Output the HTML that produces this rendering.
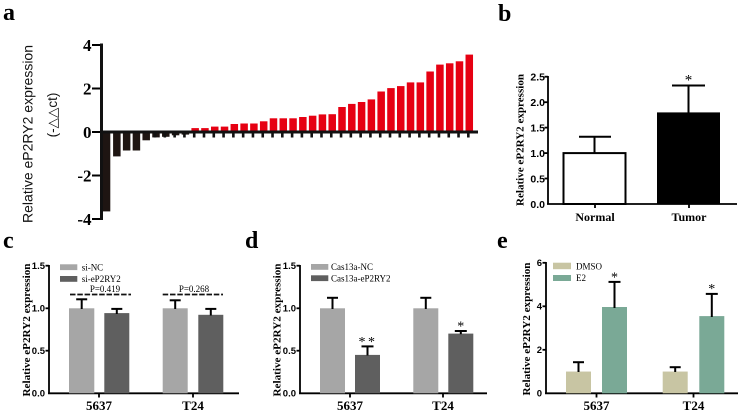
<!DOCTYPE html>
<html><head><meta charset="utf-8"><style>
html,body{margin:0;padding:0;background:#fff;}
svg{display:block;}
.sf{font-family:"Liberation Serif",serif;}
.ss{font-family:"Liberation Sans",sans-serif;}
</style></head><body>
<svg width="746" height="414" viewBox="0 0 746 414" xmlns="http://www.w3.org/2000/svg">
<rect width="746" height="414" fill="#fff"/>
<!-- ===== Panel a ===== -->
<text x="3" y="20" class="sf" font-size="24" font-weight="bold">a</text>
<text class="ss" font-size="13.5" fill="#111" transform="translate(32.5,134) rotate(-90)" text-anchor="middle" textLength="178" lengthAdjust="spacingAndGlyphs">Relative eP2RY2 expression</text>
<text font-family="Liberation Sans, DejaVu Sans, sans-serif" font-size="13.5" fill="#111" transform="translate(57,115) rotate(-90)" text-anchor="middle">(-△△ct)</text>
<g class="sf" font-size="17" font-weight="bold" text-anchor="end">
<text x="91.5" y="51">4</text>
<text x="91.5" y="94.5">2</text>
<text x="91.5" y="138">0</text>
<text x="91.5" y="181.5">-2</text>
<text x="91.5" y="225">-4</text>
</g>
<g stroke="#000" stroke-width="2">
<line x1="92" y1="45" x2="102" y2="45"/>
<line x1="92" y1="88.5" x2="102" y2="88.5"/>
<line x1="92" y1="132" x2="102" y2="132"/>
<line x1="92" y1="175.5" x2="102" y2="175.5"/>
<line x1="92" y1="219" x2="102" y2="219"/>
</g>
<g fill="#1e1512">
<rect x="102.3" y="132" width="8" height="79.4"/>
<rect x="113.09" y="132" width="7.5" height="24.4"/>
<rect x="122.88" y="132" width="7.5" height="18.5"/>
<rect x="132.67" y="132" width="7.5" height="18.5"/>
<rect x="142.46" y="132" width="7.5" height="8.3"/>
<rect x="152.25" y="132" width="7.5" height="5.4"/>
<rect x="162.04" y="132" width="7.5" height="4.8"/>
<rect x="171.83" y="132" width="7.5" height="3.3"/>
<rect x="181.62" y="132" width="7.5" height="2.6"/>
</g>
<g fill="#e60012">
<rect x="191.41" y="128.1" width="7.5" height="3.9"/>
<rect x="201.2" y="128.1" width="7.5" height="3.9"/>
<rect x="210.99" y="126.6" width="7.5" height="5.4"/>
<rect x="220.78" y="126.6" width="7.5" height="5.4"/>
<rect x="230.57" y="124.0" width="7.5" height="8"/>
<rect x="240.36" y="123.5" width="7.5" height="8.5"/>
<rect x="250.15" y="123.5" width="7.5" height="8.5"/>
<rect x="259.94" y="121.3" width="7.5" height="10.7"/>
<rect x="269.73" y="118.3" width="7.5" height="13.7"/>
<rect x="279.52" y="118.3" width="7.5" height="13.7"/>
<rect x="289.31" y="118.3" width="7.5" height="13.7"/>
<rect x="299.1" y="117.0" width="7.5" height="15"/>
<rect x="308.89" y="115.7" width="7.5" height="16.3"/>
<rect x="318.68" y="114.4" width="7.5" height="17.6"/>
<rect x="328.47" y="114.2" width="7.5" height="17.8"/>
<rect x="338.26" y="107.0" width="7.5" height="25"/>
<rect x="348.05" y="103.9" width="7.5" height="28.1"/>
<rect x="357.84" y="102.0" width="7.5" height="30"/>
<rect x="367.63" y="99.4" width="7.5" height="32.6"/>
<rect x="377.42" y="91.5" width="7.5" height="40.5"/>
<rect x="387.21" y="88.1" width="7.5" height="43.9"/>
<rect x="397.0" y="86.1" width="7.5" height="45.9"/>
<rect x="406.79" y="82.4" width="7.5" height="49.6"/>
<rect x="416.58" y="82.4" width="7.5" height="49.6"/>
<rect x="426.37" y="71.5" width="7.5" height="60.5"/>
<rect x="436.16" y="64.6" width="7.5" height="67.4"/>
<rect x="445.95" y="63.3" width="7.5" height="68.7"/>
<rect x="455.74" y="61.3" width="7.5" height="70.7"/>
<rect x="465.53" y="54.6" width="7.5" height="77.4"/>
</g>
<g fill="#111">
<rect x="153.75" y="132" width="2.6" height="5.5"/>
<rect x="163.54" y="132" width="2.6" height="5.5"/>
<rect x="173.33" y="132" width="2.6" height="5.5"/>
<rect x="183.12" y="132" width="2.6" height="5.5"/>
<rect x="192.91" y="132" width="2.6" height="5.5"/>
<rect x="202.7" y="132" width="2.6" height="5.5"/>
<rect x="212.49" y="132" width="2.6" height="5.5"/>
<rect x="222.28" y="132" width="2.6" height="5.5"/>
<rect x="232.07" y="132" width="2.6" height="5.5"/>
<rect x="241.86" y="132" width="2.6" height="5.5"/>
<rect x="251.65" y="132" width="2.6" height="5.5"/>
<rect x="261.44" y="132" width="2.6" height="5.5"/>
<rect x="271.23" y="132" width="2.6" height="5.5"/>
<rect x="281.02" y="132" width="2.6" height="5.5"/>
<rect x="290.81" y="132" width="2.6" height="5.5"/>
<rect x="300.6" y="132" width="2.6" height="5.5"/>
<rect x="310.39" y="132" width="2.6" height="5.5"/>
<rect x="320.18" y="132" width="2.6" height="5.5"/>
<rect x="329.97" y="132" width="2.6" height="5.5"/>
<rect x="339.76" y="132" width="2.6" height="5.5"/>
<rect x="349.55" y="132" width="2.6" height="5.5"/>
<rect x="359.34" y="132" width="2.6" height="5.5"/>
<rect x="369.13" y="132" width="2.6" height="5.5"/>
<rect x="378.92" y="132" width="2.6" height="5.5"/>
<rect x="388.71" y="132" width="2.6" height="5.5"/>
<rect x="398.5" y="132" width="2.6" height="5.5"/>
<rect x="408.29" y="132" width="2.6" height="5.5"/>
<rect x="418.08" y="132" width="2.6" height="5.5"/>
<rect x="427.87" y="132" width="2.6" height="5.5"/>
<rect x="437.66" y="132" width="2.6" height="5.5"/>
<rect x="447.45" y="132" width="2.6" height="5.5"/>
<rect x="457.24" y="132" width="2.6" height="5.5"/>
<rect x="467.03" y="132" width="2.6" height="5.5"/>
</g>
<line x1="101.5" y1="43.5" x2="101.5" y2="220" stroke="#111" stroke-width="3"/>
<line x1="100" y1="132" x2="478" y2="132" stroke="#111" stroke-width="3"/>

<!-- ===== Panel b ===== -->
<text x="498" y="21" class="sf" font-size="24" font-weight="bold">b</text>
<text class="sf" font-size="10.7" font-weight="bold" transform="translate(523.5,140) rotate(-90)" text-anchor="middle" textLength="132" lengthAdjust="spacingAndGlyphs">Relative eP2RY2 expression</text>
<g class="ss" font-size="10.5" font-weight="bold" text-anchor="end">
<text x="545" y="80.5">2.5</text>
<text x="545" y="106">2.0</text>
<text x="545" y="131.4">1.5</text>
<text x="545" y="156.9">1.0</text>
<text x="545" y="182.3">0.5</text>
<text x="545" y="207.8">0.0</text>
</g>
<g stroke="#000" stroke-width="1.8">
<line x1="544.5" y1="76.7" x2="548" y2="76.7"/>
<line x1="544.5" y1="102.2" x2="548" y2="102.2"/>
<line x1="544.5" y1="127.6" x2="548" y2="127.6"/>
<line x1="544.5" y1="153.1" x2="548" y2="153.1"/>
<line x1="544.5" y1="178.5" x2="548" y2="178.5"/>
<line x1="548" y1="76" x2="548" y2="204"/>
<line x1="547" y1="204" x2="737" y2="204"/>
<line x1="595" y1="204" x2="595" y2="208"/>
<line x1="689" y1="204" x2="689" y2="208"/>
</g>
<rect x="563.5" y="153.1" width="62" height="50.9" fill="#fff" stroke="#000" stroke-width="2"/>
<g stroke="#000" stroke-width="2">
<line x1="594.5" y1="153.1" x2="594.5" y2="136.7"/>
<line x1="579" y1="136.7" x2="611" y2="136.7"/>
<line x1="688.5" y1="113" x2="688.5" y2="85.5"/>
<line x1="672" y1="85.5" x2="705" y2="85.5"/>
</g>
<rect x="657" y="112.4" width="63" height="91.6" fill="#000"/>
<text x="688.5" y="84.5" class="sf" font-size="15" text-anchor="middle">*</text>
<g class="sf" font-size="12" font-weight="bold" text-anchor="middle">
<text x="595" y="221">Normal</text>
<text x="689" y="221">Tumor</text>
</g>

<!-- ===== Panel c ===== -->
<text x="3" y="248" class="sf" font-size="24" font-weight="bold">c</text>
<text class="sf" font-size="10.7" font-weight="bold" transform="translate(30,330) rotate(-90)" text-anchor="middle" textLength="133" lengthAdjust="spacingAndGlyphs">Relative eP2RY2 expression</text>
<g class="ss" font-size="9.5" font-weight="bold" text-anchor="end">
<text x="45" y="269">1.5</text>
<text x="45" y="311.6">1.0</text>
<text x="45" y="354">0.5</text>
<text x="45" y="396.6">0.0</text>
</g>
<g stroke="#000" stroke-width="1.8">
<line x1="45.5" y1="265.7" x2="49" y2="265.7"/>
<line x1="45.5" y1="308.3" x2="49" y2="308.3"/>
<line x1="45.5" y1="350.7" x2="49" y2="350.7"/>
<line x1="49" y1="265" x2="49" y2="393.3"/>
<line x1="48" y1="393.3" x2="239" y2="393.3"/>
<line x1="99" y1="393.3" x2="99" y2="397.5"/>
<line x1="193" y1="393.3" x2="193" y2="397.5"/>
</g>
<rect x="69" y="308.3" width="25.3" height="85" fill="#a6a6a6"/>
<rect x="104.3" y="313.1" width="25" height="80.2" fill="#5f5f5f"/>
<rect x="162.7" y="308.3" width="25" height="85" fill="#a6a6a6"/>
<rect x="198.3" y="314.8" width="25" height="78.5" fill="#5f5f5f"/>
<g stroke="#000" stroke-width="2">
<line x1="81.7" y1="309" x2="81.7" y2="299.3"/><line x1="76.2" y1="299.3" x2="87.2" y2="299.3"/>
<line x1="116.8" y1="314" x2="116.8" y2="308.9"/><line x1="111.3" y1="308.9" x2="122.3" y2="308.9"/>
<line x1="175.2" y1="309" x2="175.2" y2="300.3"/><line x1="169.7" y1="300.3" x2="180.7" y2="300.3"/>
<line x1="210.8" y1="315.5" x2="210.8" y2="308.9"/><line x1="205.3" y1="308.9" x2="216.3" y2="308.9"/>
</g>
<g stroke="#111" stroke-width="1.8" stroke-dasharray="5.5,1.8">
<line x1="70" y1="294.5" x2="131" y2="294.5"/>
<line x1="162.7" y1="294.5" x2="223" y2="294.5"/>
</g>
<g class="sf" font-size="9" text-anchor="middle">
<text x="105" y="292">P=0.419</text>
<text x="194" y="292">P=0.268</text>
</g>
<rect x="60" y="264.3" width="17.3" height="5.8" fill="#a6a6a6"/>
<rect x="60" y="276" width="17.3" height="5.8" fill="#5f5f5f"/>
<g class="sf" font-size="9">
<text x="81.7" y="270.3">si-NC</text>
<text x="81.7" y="281.9">si-eP2RY2</text>
</g>
<g class="sf" font-size="13" font-weight="bold" text-anchor="middle">
<text x="99" y="410">5637</text>
<text x="193" y="410">T24</text>
</g>

<!-- ===== Panel d ===== -->
<text x="245" y="248" class="sf" font-size="24" font-weight="bold">d</text>
<text class="sf" font-size="10.7" font-weight="bold" transform="translate(280.5,330) rotate(-90)" text-anchor="middle" textLength="133" lengthAdjust="spacingAndGlyphs">Relative eP2RY2 expression</text>
<g class="ss" font-size="9.5" font-weight="bold" text-anchor="end">
<text x="296" y="269">1.5</text>
<text x="296" y="311.6">1.0</text>
<text x="296" y="354">0.5</text>
<text x="296" y="396.6">0.0</text>
</g>
<g stroke="#000" stroke-width="1.8">
<line x1="296.5" y1="265.7" x2="300" y2="265.7"/>
<line x1="296.5" y1="308.3" x2="300" y2="308.3"/>
<line x1="296.5" y1="350.7" x2="300" y2="350.7"/>
<line x1="300" y1="265" x2="300" y2="393.3"/>
<line x1="299" y1="393.3" x2="487" y2="393.3"/>
<line x1="350" y1="393.3" x2="350" y2="397.5"/>
<line x1="443" y1="393.3" x2="443" y2="397.5"/>
</g>
<rect x="320" y="308.3" width="25" height="85" fill="#a6a6a6"/>
<rect x="355" y="354.9" width="25" height="38.4" fill="#5f5f5f"/>
<rect x="413.3" y="308.3" width="25" height="85" fill="#a6a6a6"/>
<rect x="448.3" y="333.6" width="25" height="59.7" fill="#5f5f5f"/>
<g stroke="#000" stroke-width="2">
<line x1="332.5" y1="309" x2="332.5" y2="297.8"/><line x1="327" y1="297.8" x2="338" y2="297.8"/>
<line x1="367.5" y1="355.5" x2="367.5" y2="346.4"/><line x1="361.5" y1="346.4" x2="373.5" y2="346.4"/>
<line x1="425.8" y1="309" x2="425.8" y2="297.8"/><line x1="420.3" y1="297.8" x2="431.3" y2="297.8"/>
<line x1="460.8" y1="334.2" x2="460.8" y2="331"/><line x1="454.8" y1="331" x2="466.8" y2="331"/>
</g>
<g class="sf" font-size="14" text-anchor="middle">
<text x="368" y="346" letter-spacing="2.5">**</text>
<text x="460.8" y="330.5">*</text>
</g>
<rect x="311" y="264" width="17.3" height="5.8" fill="#a6a6a6"/>
<rect x="311" y="275.3" width="17.3" height="5.8" fill="#5f5f5f"/>
<g class="sf" font-size="9">
<text x="331" y="270">Cas13a-NC</text>
<text x="331" y="281.3">Cas13a-eP2RY2</text>
</g>
<g class="sf" font-size="13" font-weight="bold" text-anchor="middle">
<text x="350" y="410">5637</text>
<text x="443" y="410">T24</text>
</g>

<!-- ===== Panel e ===== -->
<text x="497" y="248" class="sf" font-size="24" font-weight="bold">e</text>
<text class="sf" font-size="10.7" font-weight="bold" transform="translate(530,329) rotate(-90)" text-anchor="middle" textLength="133" lengthAdjust="spacingAndGlyphs">Relative eP2RY2 expression</text>
<g class="ss" font-size="9.5" font-weight="bold" text-anchor="end">
<text x="542" y="266.2">6</text>
<text x="542" y="309.7">4</text>
<text x="542" y="353.2">2</text>
<text x="542" y="396.7">0</text>
</g>
<g stroke="#000" stroke-width="1.8">
<line x1="542.5" y1="262.8" x2="546" y2="262.8"/>
<line x1="542.5" y1="306.3" x2="546" y2="306.3"/>
<line x1="542.5" y1="349.8" x2="546" y2="349.8"/>
<line x1="546" y1="262" x2="546" y2="393.3"/>
<line x1="545" y1="393.3" x2="738" y2="393.3"/>
<line x1="596.5" y1="393.3" x2="596.5" y2="397.5"/>
<line x1="693.5" y1="393.3" x2="693.5" y2="397.5"/>
</g>
<rect x="566" y="371.55" width="25" height="21.75" fill="#c8c5a3"/>
<rect x="602" y="307" width="25" height="86.3" fill="#7aa996"/>
<rect x="662.7" y="371.55" width="25" height="21.75" fill="#c8c5a3"/>
<rect x="699.3" y="316.1" width="25" height="77.2" fill="#7aa996"/>
<g stroke="#000" stroke-width="2">
<line x1="578.5" y1="372" x2="578.5" y2="362.2"/><line x1="573" y1="362.2" x2="584" y2="362.2"/>
<line x1="614.5" y1="308" x2="614.5" y2="281.9"/><line x1="608.5" y1="281.9" x2="620.5" y2="281.9"/>
<line x1="675.2" y1="372" x2="675.2" y2="367.2"/><line x1="669.7" y1="367.2" x2="680.7" y2="367.2"/>
<line x1="711.8" y1="317" x2="711.8" y2="293.9"/><line x1="705.8" y1="293.9" x2="717.8" y2="293.9"/>
</g>
<g class="sf" font-size="14" text-anchor="middle">
<text x="614.5" y="281.5">*</text>
<text x="711.8" y="293">*</text>
</g>
<rect x="553" y="262.7" width="18" height="6.5" fill="#c8c5a3"/>
<rect x="553" y="275" width="18" height="6" fill="#7aa996"/>
<g class="sf" font-size="9">
<text x="576" y="269.5">DMSO</text>
<text x="576" y="281">E2</text>
</g>
<g class="sf" font-size="13" font-weight="bold" text-anchor="middle">
<text x="596.5" y="410">5637</text>
<text x="693.5" y="410">T24</text>
</g>
</svg>
</body></html>
